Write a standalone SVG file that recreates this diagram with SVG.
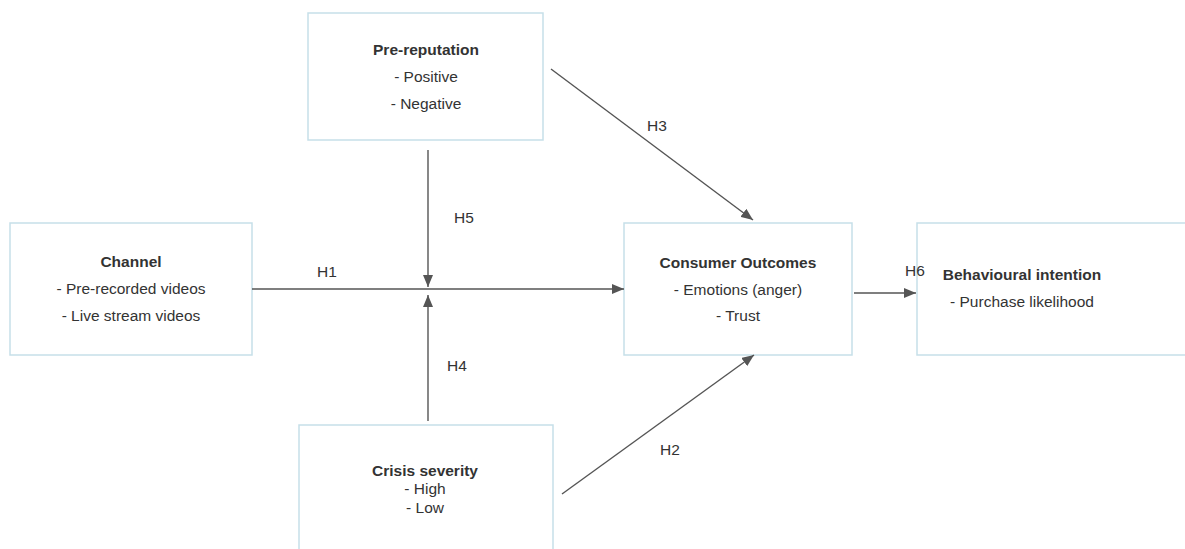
<svg xmlns="http://www.w3.org/2000/svg" width="1185" height="549" viewBox="0 0 1185 549">
<style>
.box{fill:#fff;stroke:#c6dfe9;stroke-width:1.5}
text{font-family:"Liberation Sans",Arial,sans-serif;font-size:15.5px;fill:#333;text-anchor:middle}
.t{font-weight:bold}
.c{stroke:#555;stroke-width:1.4;fill:none}
</style>
<defs>
<marker id="ah" viewBox="0 0 12 10" refX="12" refY="5" markerWidth="12" markerHeight="10" markerUnits="userSpaceOnUse" orient="auto">
<path d="M0,0 L12,5 L0,10 z" fill="#555"/>
</marker>
</defs>
<rect width="1185" height="549" fill="#fff"/>
<g id="pre-reputation">
<rect class="box" x="308" y="13" width="235" height="127"/>
<text class="t" x="426" y="55">Pre-reputation</text>
<text x="426" y="82">- Positive</text>
<text x="426" y="109">- Negative</text>
</g>
<g id="channel">
<rect class="box" x="10" y="223" width="242" height="132"/>
<text class="t" x="131" y="267">Channel</text>
<text x="131" y="294">- Pre-recorded videos</text>
<text x="131" y="321">- Live stream videos</text>
</g>
<g id="consumer-outcomes">
<rect class="box" x="624" y="223" width="228" height="132"/>
<text class="t" x="738" y="268">Consumer Outcomes</text>
<text x="738" y="295">- Emotions (anger)</text>
<text x="738" y="321">- Trust</text>
</g>
<g id="behavioural-intention">
<rect class="box" x="917" y="223" width="280" height="132"/>
<text class="t" x="1022" y="280">Behavioural intention</text>
<text x="1022" y="307">- Purchase likelihood</text>
</g>
<g id="crisis-severity">
<rect class="box" x="299" y="425" width="254" height="140"/>
<text class="t" x="425" y="476">Crisis severity</text>
<text x="425" y="494">- High</text>
<text x="425" y="513">- Low</text>
</g>
<g id="connectors">
<line class="c" x1="252" y1="289" x2="624" y2="289" marker-end="url(#ah)"/>
<line class="c" x1="428" y1="150" x2="428" y2="287" marker-end="url(#ah)"/>
<line class="c" x1="428" y1="421" x2="428" y2="295" marker-end="url(#ah)"/>
<line class="c" x1="551" y1="69" x2="753" y2="220" marker-end="url(#ah)"/>
<line class="c" x1="562" y1="494" x2="754" y2="355" marker-end="url(#ah)"/>
<line class="c" x1="854" y1="293" x2="916" y2="293" marker-end="url(#ah)"/>
<text x="327" y="277">H1</text>
<text x="464" y="223">H5</text>
<text x="657" y="131">H3</text>
<text x="915" y="276">H6</text>
<text x="457" y="371">H4</text>
<text x="670" y="455">H2</text>
</g>
</svg>
